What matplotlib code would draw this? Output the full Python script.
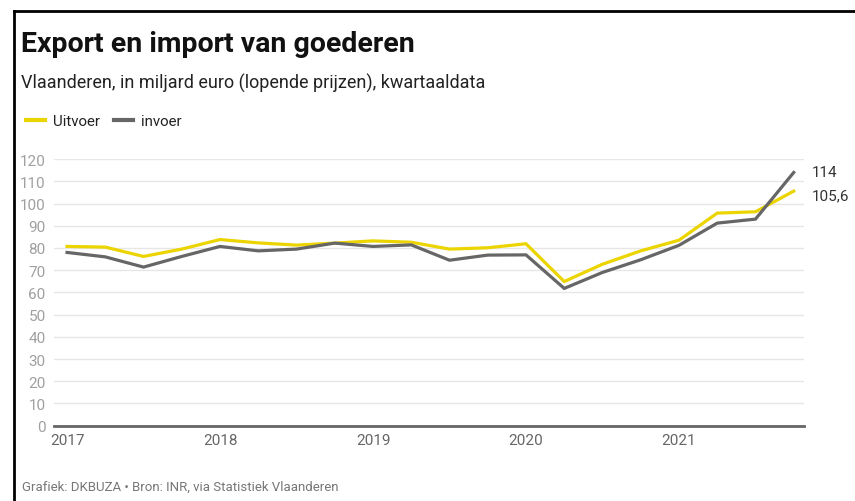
import numpy as np
from matplotlib import pyplot as plt
from matplotlib.lines import Line2D

plt.rcParams['font.family'] = ['Roboto', 'DejaVu Sans']

# kwartalen 2017Q1 .. 2021Q4
quarters = np.arange(20)
year_labels = ['2017', '2018', '2019', '2020', '2021']
year_pos = [0, 4, 8, 12, 16]

uitvoer = [80.7, 80.4, 76.2, 79.5, 83.8, 82.3, 81.3, 82.2, 83.2, 82.6,
           79.5, 80.1, 81.9, 64.9, 72.7, 78.7, 83.5, 95.7, 96.3, 105.6]
invoer = [78.0, 76.0, 71.4, 76.2, 80.7, 78.7, 79.5, 82.2, 80.7, 81.4,
          74.5, 76.8, 76.9, 61.8, 69.0, 74.7, 81.2, 91.2, 93.0, 114.0]

yellow = '#ecd400'
grey = '#666666'

fig = plt.figure(figsize=(8.55, 5.02), dpi=100)
ax = fig.add_axes([0.0632, 0.150, 0.8772, 0.531])

ax.plot(quarters, uitvoer, color=yellow, lw=2.3, solid_joinstyle='miter', clip_on=False)
ax.plot(quarters, invoer, color=grey, lw=2.3, solid_joinstyle='miter', clip_on=False)

ax.set_xlim(-0.34, 19.27)
ax.set_ylim(0, 120)
ax.set_yticks(np.arange(0, 121, 10))
ax.set_xticks(year_pos)
ax.set_xticklabels(year_labels)
ax.grid(axis='y', color='#e6e6e6', lw=1)
ax.set_axisbelow(True)
for s in ['top', 'right', 'left']:
    ax.spines[s].set_visible(False)
ax.spines['bottom'].set_color(grey)
ax.spines['bottom'].set_linewidth(2)
ax.tick_params(axis='y', length=0, pad=6, labelsize=11, labelcolor='#a0a0a0')
ax.tick_params(axis='x', length=0, pad=5, labelsize=11, labelcolor='#666666')

ax.annotate('114', (quarters[-1], invoer[-1]), xytext=(13, 0), textcoords='offset points',
            va='center', ha='left', fontsize=11, color='#333333', annotation_clip=False)
ax.annotate('105,6', (quarters[-1], uitvoer[-1]), xytext=(13, -3), textcoords='offset points',
            va='center', ha='left', fontsize=11, color='#333333', annotation_clip=False)

fig.text(21 / 855, 1 - 45 / 502, 'Export en import van goederen', fontsize=20.5,
         fontweight='bold', color='#111111', va='center', ha='left')
fig.text(21 / 855, 1 - 83 / 502, 'Vlaanderen, in miljard euro (lopende prijzen), kwartaaldata',
         fontsize=13, color='#222222', va='center', ha='left')

handles = [Line2D([], [], color=yellow, lw=3), Line2D([], [], color=grey, lw=3)]
fig.legend(handles, ['Uitvoer', 'invoer'], loc='center left', bbox_to_anchor=(12 / 855, 1 - 122 / 502),
           ncol=2, frameon=False, fontsize=10.8, handlelength=1.3, handletextpad=0.55,
           columnspacing=0.9, labelcolor='#222222')

fig.text(22 / 855, 1 - 487 / 502, 'Grafiek: DKBUZA \u2022 Bron: INR, via Statistiek Vlaanderen',
         fontsize=9.5, color='#777777', va='center', ha='left')

# zwarte rand links en boven
fig.add_artist(Line2D([14 / 855, 14 / 855], [0, 1 - 12 / 502], color='black', lw=2))
fig.add_artist(Line2D([14 / 855, 1], [1 - 12 / 502, 1 - 12 / 502], color='black', lw=2))

plt.savefig('out.png', dpi=100)
plt.close(fig)
